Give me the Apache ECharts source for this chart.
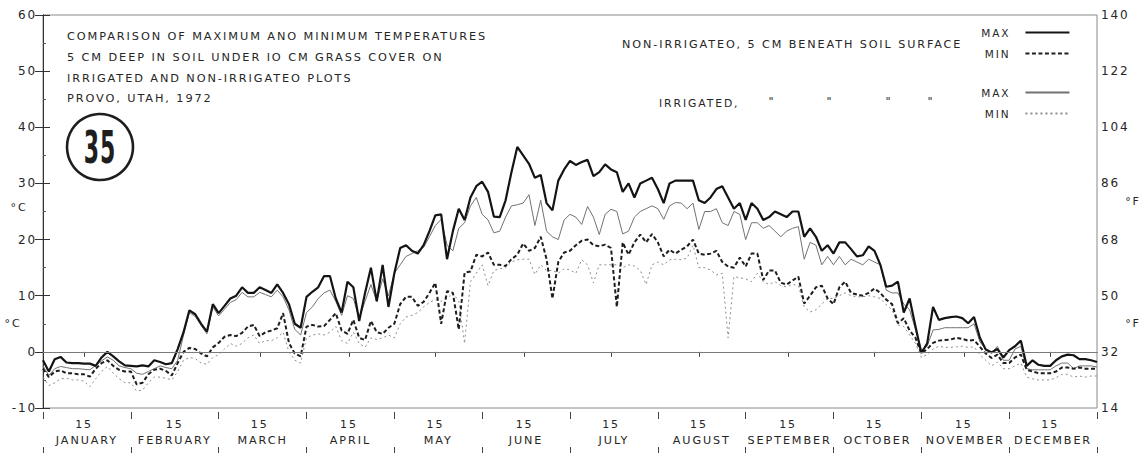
<!DOCTYPE html>
<html>
<head>
<meta charset="utf-8">
<script src="https://cdn.jsdelivr.net/npm/echarts@6/dist/echarts.min.js"></script>
<style>
html,body{margin:0;padding:0;background:#fff;}
#chart{width:1142px;height:453px;}
#chart text{letter-spacing:1.9px;}
</style>
</head>
<body>
<div id="chart"></div>
<script>
// ---- data (15 samples per month, equal-width months) ----
const months = ['JANUARY','FEBRUARY','MARCH','APRIL','MAY','JUNE','JULY','AUGUST','SEPTEMBER','OCTOBER','NOVEMBER','DECEMBER'];
const monthDays = [31,29,31,30,31,30,31,31,30,31,30,31];
const midMonthLabel = '15';
const samplesPerMonth = 15;
const yTicksC = [-10,0,10,20,30,40,50,60];

// Non-irrigated, max (heavy solid)
const nonIrrMax = [
 -1.5,-3.5,-1.3,-0.9,-1.9,-2,-2,-2.1,-2.1,-2.5,-1,0,-0.8,-1.7,-2.4,
 -2.5,-2.6,-2.4,-2.6,-1.5,-1.8,-2.2,-2,0.5,3.5,7.4,6.7,5,3.6,8.5,
 6.9,8.2,9.5,10,11.5,10.5,10.5,11.5,11,10.5,12,10.5,8.5,5,4.3,
 9.8,10.7,11.5,13.5,13.5,9.5,7,12.5,11.5,5.5,10.5,15,9,15.5,8,
 14,18.5,19,18,17.5,19,21.5,24.3,24.5,16.5,21.5,25.5,23.5,27.5,29.5,
 30.3,28.5,24.1,24,27,32,36.5,35,33.5,31,31.5,26.5,25.2,30.5,32.5,
 34,33.3,33.8,34.2,31.3,32,33.4,32.5,32,28.5,30,27.5,30,30.5,31,
 29,26.5,30,30.5,30.5,30.5,30.5,27,26.5,27.5,29,29.5,27.5,25.5,26.5,
 23.5,26.5,25.5,23.5,24,25,24.5,24,25,25,20.5,22,20.5,18,19,
 17.5,19.5,19.5,18.3,17,17.2,18.8,18,15.5,11.6,11.8,12.5,7,9.5,4.5,
 -0.2,1.5,8,5.7,6,6.2,6.3,6,5.1,6.2,2.5,0.4,-0.1,0.5,-1,
 0.3,1,2,-2.5,-1.5,-2.3,-2.5,-2.5,-1.5,-0.8,-0.5,-0.6,-1.3,-1.3,-1.5,
 -1.8
];
// Non-irrigated, min (heavy dashed)
const nonIrrMin = [
 -3,-4.5,-3.5,-3.3,-3.8,-3.8,-4,-4,-4.4,-3,-2,-1.5,-2.5,-3.2,-3.5,
 -3.5,-5.8,-5.5,-4,-3.2,-3,-3.4,-4.2,-2,0,0.7,0.5,-0.3,-0.8,0.8,
 1.6,2.7,3,2.8,3.4,4.5,4.8,2.8,3.5,3.8,4.2,6.9,1.6,-0.3,-0.8,
 4.5,4.8,4.5,4.6,5.7,6.9,3.8,3.2,5.7,2.5,2.1,5.5,3.5,3.2,4.3,
 5,8.5,9.8,9.8,8.2,8.9,10.5,12.3,5,10.8,10.5,4,14.1,14.3,17.3,
 17,17.7,15.5,15.5,15.3,16.5,17.3,19.3,18,18.5,20.5,16.5,9.5,16,17.7,
 18,19,19.8,20,19,18.8,19.1,18.5,8,19.5,17.3,19.5,20.9,19.5,21,
 19.5,17,18.2,17.5,18.2,18.8,20,17.5,17.3,17.5,18,16,15.2,15,16.8,
 15.2,17.5,17.5,12.8,14.5,14.5,12.3,12,12.7,13.4,8.6,10,11.5,11.8,9.5,
 8.5,11.5,12.5,10.5,10.2,10,10.5,11.3,10.5,9.3,8.5,5.1,6,3.8,2.5,
 -0.3,0.5,1.6,2,2.1,2.2,2.5,2.3,2,2.1,0.9,-0.3,-1.1,-0.5,-2,
 -2,-1,-0.5,-3.2,-3.5,-3.8,-3.8,-3.8,-3.5,-2.8,-2.8,-3,-2.8,-3,-3,
 -3
];
// Irrigated, max (thin solid)
const irrMax = [
 -2.5,-4.2,-3,-2.6,-2.8,-3,-3,-3.1,-3.2,-2.4,-1.6,-0.9,-1.5,-2.5,-2.8,
 -3,-3.8,-4,-3.5,-3,-2.5,-2.8,-3,-1.5,3,7,6.3,4.7,3.2,8,
 6.4,7.6,8.8,9.3,10.6,9.8,9.8,10.6,10.2,9.8,11,9.8,7.5,4,3,
 7,8,9.5,10.5,11,9,6.5,10,9.5,6,9,12,9,13,10,
 14,15.5,17,17.5,18,18.6,20.5,22.5,23.6,19,18,22,23,26,27.5,
 24.5,23.5,21.2,21.5,24,26,26.2,26.5,28,22.5,27,21.5,20.5,20,23.5,
 24.5,24,22.7,25.9,24,20.9,24.5,25.4,25,21,21.5,24,25,25.5,26,
 25.5,23.6,26,26.6,26.5,25.5,26.5,21.8,25,25,25.5,23,22.5,25,24.5,
 20,23,23,22,22.5,21.5,20.5,21.5,22,22.3,16.5,19.5,19,15.5,17,
 15.5,17,15.5,16.5,16,15.5,16.5,16,15.5,11,10.5,10.5,8.5,7.5,4,
 0.3,1,3.9,4,4.3,4.3,4.3,4.3,4.3,5,1.8,0.5,-0.2,1,-1.5,
 -1.5,0.5,1,-3,-3.2,-3.2,-3.2,-3.2,-2.5,-2,-2,-3,-2.5,-2.5,-2.5,
 -2.7
];
// Irrigated, min (thin dotted)
const irrMin = [
 -4.5,-6,-5.5,-4.8,-4.7,-5,-5,-5.2,-6.2,-4.8,-3.5,-2.6,-3.8,-4.8,-5.5,
 -5.5,-7,-6.8,-5.5,-4.5,-4.5,-4.7,-5,-3.5,-1.5,-1,-1.2,-2,-2.2,-1,
 -0.5,0.5,1.5,1,1.5,2.5,3,1.5,2,2,2.5,3.5,0,-1.5,-2,
 2.5,3,3.2,3,3.5,4.5,2,1.5,3.5,1.5,0.8,2.5,2.2,2.5,3,
 2.5,5,6.2,6.5,7,8,8.8,9.3,9,9.5,10.5,9,1.5,12.5,14,
 15.5,11.8,14.5,14.8,15,16,16.4,16.5,16.5,13.8,15.5,14.5,14.5,14,14.8,
 14.6,14,16.4,15.5,12.3,15.5,15.5,15.5,15.5,15,15.5,15.3,14.5,12,15.5,
 16,15.5,16.4,16.5,16.4,16.7,19,15,15,14.6,13.7,14,2.5,13.4,13.2,
 13,12.5,14,12.5,12,12.5,11.8,11.6,12,11.8,8,7.1,7.5,8.5,9.5,
 9.5,10,10.5,10,9.8,9.8,10,9.8,9.5,8.4,7.5,4.8,4.5,3,1.5,
 -1,-0.5,0.5,1,0.8,0.8,0.9,1,0.8,0.9,-0.5,-1.5,-2.5,-1.8,-3,
 -3,-2.5,-2,-4.5,-4.8,-5,-5,-5,-4.6,-4,-4,-4.5,-4.3,-4.5,-4.3,
 -4.3
];

// ---- build ----
const toPairs = arr => arr.map((v, i) => [i / samplesPerMonth, v]);
const midPositions = monthDays.map((d, m) => m + 14.5 / d);
const FONT = 'DejaVu Sans';
const INK = '#262626';

const chart = echarts.init(document.getElementById('chart'), null, {renderer: 'svg'});

const lineSeries = (name, data, style) => ({
  name, type: 'line', data: toPairs(data), showSymbol: false, symbol: 'none',
  xAxisIndex: 0, yAxisIndex: 0, silent: true, animation: false,
  lineStyle: style, itemStyle: {color: style.color}
});

const legendBase = {
  orient: 'vertical', left: 982, align: 'right',
  itemWidth: 44, itemHeight: 10, itemGap: 10, selectedMode: false,
  itemStyle: {opacity: 0},
  formatter: n => n.endsWith('max') ? 'MAX' : 'MIN',
  textStyle: {fontSize: 10.5, color: INK, fontFamily: FONT, padding: [0, 10, 0, 0]}
};

const txt = (x, y, text, size, extra) => ({
  type: 'text', x, y,
  style: Object.assign({text, font: size + 'px ' + FONT, fill: INK, textVerticalAlign: 'middle'}, extra || {})
});

const option = {
  animation: false,
  backgroundColor: '#fff',
  grid: {left: 43, right: 45, top: 15, bottom: 45, show: true, borderColor: '#8a8a8a', borderWidth: 1},
  textStyle: {fontFamily: FONT, color: INK},
  xAxis: [
    {type: 'value', min: 0, max: 12, interval: 1, position: 'bottom',
     axisLine: {lineStyle: {color: '#333', width: 1}}, axisTick: {show: false},
     axisLabel: {show: false}, splitLine: {show: false}},
    {type: 'value', min: 0, max: 12, position: 'bottom',
     axisLine: {show: false},
     axisTick: {show: true, customValues: midPositions, length: 5, lineStyle: {color: '#444'}},
     axisLabel: {show: true, customValues: midPositions, formatter: () => midMonthLabel,
                 fontSize: 11, color: INK, fontFamily: FONT, margin: 11},
     splitLine: {show: false}},
    {type: 'category', data: months, boundaryGap: true, position: 'bottom',
     axisLine: {show: false}, axisTick: {show: false},
     axisLabel: {fontSize: 11.2, color: INK, fontFamily: FONT, margin: 27, interval: 0},
     splitLine: {show: false}},
    {type: 'value', min: 0, max: 12, interval: 1, position: 'bottom', offset: 4,
     axisLine: {show: false}, axisTick: {show: true, length: 7, lineStyle: {color: '#444'}},
     axisLabel: {show: false}, splitLine: {show: false}},
    {type: 'value', min: 0, max: 12, interval: 1, position: 'bottom', offset: 39,
     axisLine: {show: false}, axisTick: {show: true, length: 7, lineStyle: {color: '#444'}},
     axisLabel: {show: false}, splitLine: {show: false}}
  ],
  yAxis: [
    {type: 'value', min: yTicksC[0], max: yTicksC[yTicksC.length - 1], interval: 10, position: 'left',
     axisLine: {show: true, lineStyle: {color: '#333'}},
     axisTick: {show: true, inside: true, length: 7, lineStyle: {color: '#333'}},
     minorTick: {show: true, splitNumber: 2, length: 3, lineStyle: {color: '#555'}},
     axisLabel: {fontSize: 12, color: INK, fontFamily: FONT, margin: 6},
     splitLine: {show: false}},
    {type: 'value', min: yTicksC[0], max: yTicksC[yTicksC.length - 1], interval: 10, position: 'right',
     axisLine: {show: true, lineStyle: {color: '#333'}},
     axisTick: {show: true, inside: true, length: 8, lineStyle: {color: '#333'}},
     axisLabel: {fontSize: 12, color: INK, fontFamily: FONT, margin: 4,
                 formatter: v => String(Math.round(v * 1.8 + 32))},
     splitLine: {show: false}}
  ],
  legend: [
    Object.assign({data: ['NI max', 'NI min'], top: 22}, legendBase),
    Object.assign({data: ['IR max', 'IR min'], top: 82}, legendBase)
  ],
  series: [
    lineSeries('IR min', irrMin, {color: '#8c8c8c', width: 1, type: [2, 3]}),
    lineSeries('IR max', irrMax, {color: '#727272', width: 1, type: 'solid'}),
    lineSeries('NI min', nonIrrMin, {color: '#1e1e1e', width: 2, type: [4, 2.5]}),
    Object.assign(lineSeries('NI max', nonIrrMax, {color: '#141414', width: 2.2, type: 'solid'}), {
      markLine: {silent: true, symbol: 'none', animation: false, label: {show: false},
                 lineStyle: {color: '#7a7a7a', width: 1, type: 'solid'}, data: [{yAxis: 0}]}
    })
  ],
  graphic: [
    txt(67, 36, 'COMPARISON OF MAXIMUM ANO MINIMUM TEMPERATURES', 11.3),
    txt(67, 57, '5 CM DEEP IN SOIL UNDER IO CM GRASS COVER ON', 11.3),
    txt(67, 78, 'IRRIGATED AND NON-IRRIGATEO PLOTS', 11.3),
    txt(67, 98, 'PROVO, UTAH, 1972', 11.3),
    txt(622, 44, 'NON-IRRIGATEO, 5 CM BENEATH SOIL SURFACE', 11.2),
    txt(659, 103, 'IRRIGATED,', 10.8),
    txt(772, 101, '"', 11, {textAlign: 'center'}),
    txt(830, 101, '"', 11, {textAlign: 'center'}),
    txt(889, 101, '"', 11, {textAlign: 'center'}),
    txt(931, 101, '"', 11, {textAlign: 'center'}),
    txt(19, 207, '°C', 11, {textAlign: 'center'}),
    txt(13, 323, '°C', 11, {textAlign: 'center'}),
    txt(1133, 201, '°F', 11, {textAlign: 'center'}),
    txt(1133, 323, '°F', 11, {textAlign: 'center'}),
    {type: 'circle', shape: {cx: 100, cy: 147, r: 33}, style: {fill: 'none', stroke: '#1e1e1e', lineWidth: 2.6}},
    {type: 'text', x: 100, y: 148, scaleX: 0.5,
     style: {text: '35', font: 'bold 44px ' + FONT, fill: '#1e1e1e', textVerticalAlign: 'middle', textAlign: 'center'}}
  ]
};
chart.setOption(option);
</script>
</body>
</html>
